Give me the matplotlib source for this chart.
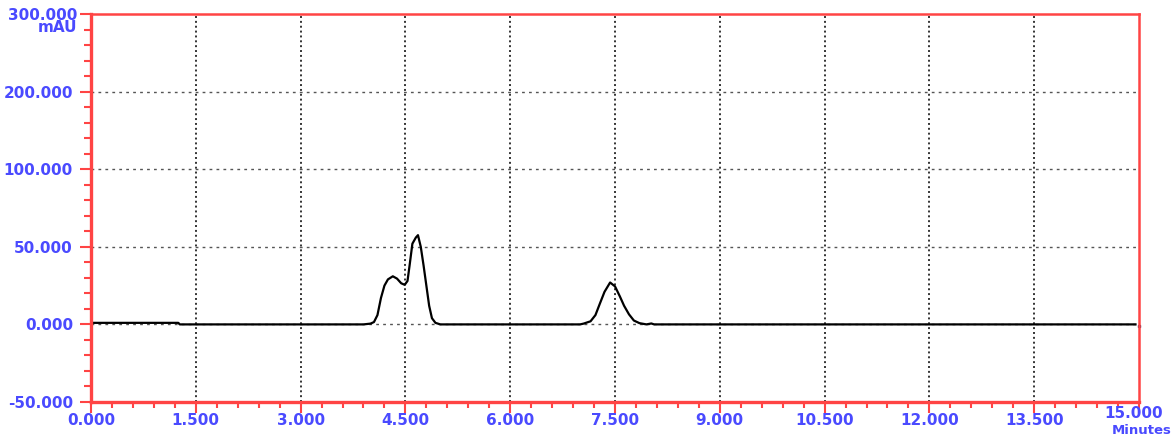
import numpy as np
import matplotlib
matplotlib.use('Agg')
import matplotlib.pyplot as plt

# chromatogram trace (minutes, mAU)
times = [0.0, 1.25, 1.27, 3.90, 4.00, 4.05, 4.10, 4.15, 4.20, 4.25, 4.32, 4.38, 4.44,
         4.49, 4.53, 4.56, 4.60, 4.65, 4.68, 4.72, 4.76, 4.80, 4.84, 4.88, 4.93, 5.00,
         7.00, 7.05, 7.15, 7.22, 7.28, 7.35, 7.43, 7.50, 7.57, 7.63, 7.70, 7.77, 7.85,
         7.95, 8.02, 8.06, 14.95]
mau = [1.0, 1.0, 0.0, 0.0, 0.5, 1.5, 6.0, 17.0, 25.0, 29.0, 31.0, 29.5, 26.5,
       25.5, 28.0, 38.0, 52.0, 56.0, 57.5, 50.0, 38.0, 25.0, 12.0, 4.0, 1.0, 0.0,
       0.0, 0.5, 2.0, 6.0, 13.0, 21.0, 27.0, 24.5, 18.0, 12.0, 6.5, 2.5, 0.8,
       0.0, 0.6, 0.0, 0.0]

x_ticks = [0, 1.5, 3, 4.5, 6, 7.5, 9, 10.5, 12, 13.5, 15]
x_labels = ['0.000', '1.500', '3.000', '4.500', '6.000', '7.500', '9.000',
            '10.500', '12.000', '13.500', '']
y_ticks = [-50, 0, 50, 100, 200, 300]
y_labels = ['-50.000', '0.000', '50.000', '100.000', '200.000', '']

red = '#ff4444'
blue = '#4a4aff'
fs = 11


# the y axis is squeezed above 100 mAU (equal spacing for 100->200->300)
def fwd(y):
    y = np.asarray(y, dtype=float)
    return np.where(y <= 100, y, 100 + (y - 100) / 2.0)


def inv(y):
    y = np.asarray(y, dtype=float)
    return np.where(y <= 100, y, 100 + (y - 100) * 2.0)


fig = plt.figure(figsize=(11.73, 4.37), dpi=100)
ax = fig.add_axes([91 / 1173, 1 - 402 / 437, 1048 / 1173, 388 / 437])
ax.set_yscale('function', functions=(fwd, inv))

ax.plot(times, mau, color='black', lw=1.6)
ax.plot([15.0], [-1.0], marker='s', ms=2, color='#333366', clip_on=False)

ax.set_xlim(0, 15)
ax.set_ylim(-50, 300)

ax.set_xticks(x_ticks)
ax.set_xticklabels(x_labels)
ax.set_xticks(np.arange(0, 15.01, 0.3), minor=True)
ax.set_yticks(y_ticks)
ax.set_yticklabels(y_labels)
ax.set_yticks(np.concatenate([np.arange(-50, 100, 10), np.arange(100, 301, 20)]), minor=True)

ax.tick_params(axis='both', which='both', colors=red, labelcolor=blue, labelsize=fs)
ax.tick_params(axis='x', which='major', length=8, width=1.5, pad=0)
ax.tick_params(axis='x', which='minor', length=4, width=1.5)
ax.tick_params(axis='y', which='major', length=8, width=1.5, pad=5)
ax.tick_params(axis='y', which='minor', length=5, width=1.5)
for lab in ax.get_xticklabels() + ax.get_yticklabels():
    lab.set_fontweight('bold')

for s in ['left', 'bottom']:
    ax.spines[s].set_color(red)
    ax.spines[s].set_linewidth(2.4)
for s in ['top', 'right']:
    ax.spines[s].set_color(red)
    ax.spines[s].set_linewidth(1.8)

for xv in x_ticks[1:-1]:
    ax.axvline(xv, color='#333333', lw=1.4, ls=(0, (1, 1.5)), zorder=0)
for yv in y_ticks[1:-1]:
    ax.axhline(yv, color='#555555', lw=1.0, ls=(0, (2, 3)), zorder=0)

# corner labels: value + unit stacked like the instrument software
fig.text(77 / 1173, 1 - 15 / 437, '300.000', color=blue, fontsize=fs, fontweight='bold',
         ha='right', va='center')
fig.text(77 / 1173, 1 - 28 / 437, 'mAU', color=blue, fontsize=fs, fontweight='bold',
         ha='right', va='center')
fig.text(1134 / 1173, 1 - 413 / 437, '15.000', color=blue, fontsize=fs, fontweight='bold',
         ha='center', va='center')
fig.text(1172 / 1173, 0.5 / 437, 'Minutes', color=blue, fontsize=9.5, fontweight='bold',
         ha='right', va='bottom')

fig.savefig('out.png', dpi=100)
